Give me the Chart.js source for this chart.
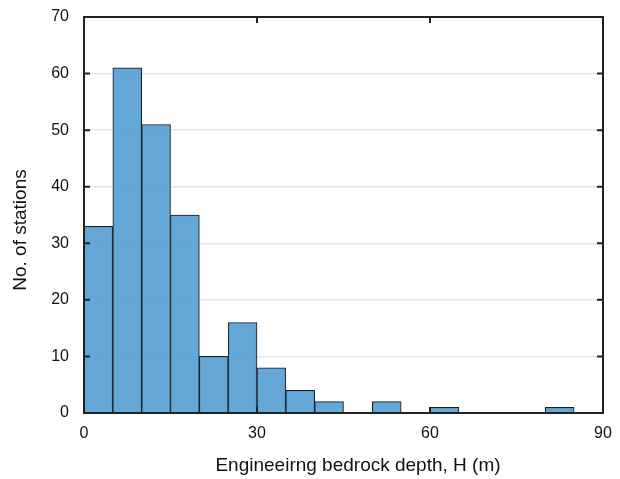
<!DOCTYPE html>
<html>
<head>
<meta charset="utf-8">
<script src="https://cdn.jsdelivr.net/npm/chart.js@4.4.1/dist/chart.umd.min.js"></script>
<style>
  html, body { margin: 0; padding: 0; background: #fff; }
  #wrap { width: 620px; height: 479px; }
</style>
</head>
<body>
<div id="wrap"><canvas id="histChart" width="620" height="479"></canvas></div>
<script>
// Bin centres (m) of 5 m wide bins, and station counts per bin
const binCenters = [2.5, 7.5, 12.5, 17.5, 22.5, 27.5, 32.5, 37.5, 42.5, 47.5, 52.5, 57.5, 62.5, 67.5, 72.5, 77.5, 82.5, 87.5];
const stationCounts = [33, 61, 51, 35, 10, 16, 8, 4, 2, 0, 2, 0, 1, 0, 0, 0, 1, 0];
const xTicks = [0, 30, 60, 90];
const yTicks = [0, 10, 20, 30, 40, 50, 60, 70];

const xTitle = 'Engineeirng bedrock depth, H (m)';
const yTitle = 'No. of stations';
const fontFamily = '"Liberation Sans", Arial, Helvetica, sans-serif';

// frame around the plot with inward tick marks, plus axis titles
const framePlugin = {
  id: 'frame',
  afterDatasetsDraw(chart) {
    const { ctx, chartArea: a, scales } = chart;
    const len = 6;
    ctx.save();
    ctx.strokeStyle = '#222';
    ctx.lineWidth = 2;
    ctx.beginPath();
    yTicks.forEach(v => {
      if (v === 0 || v === 70) return;
      const y = scales.y.getPixelForValue(v);
      ctx.moveTo(a.left, y); ctx.lineTo(a.left + len, y);
      ctx.moveTo(a.right, y); ctx.lineTo(a.right - len, y);
    });
    xTicks.forEach(v => {
      if (v === 0 || v === 90) return;
      const x = scales.x.getPixelForValue(v);
      ctx.moveTo(x, a.bottom); ctx.lineTo(x, a.bottom - len);
      ctx.moveTo(x, a.top); ctx.lineTo(x, a.top + len);
    });
    ctx.stroke();
    ctx.strokeRect(a.left, a.top, a.right - a.left, a.bottom - a.top);

    ctx.fillStyle = '#111';
    ctx.font = '19px ' + fontFamily;
    ctx.textAlign = 'center';
    ctx.textBaseline = 'middle';
    ctx.fillText(xTitle, 358, 466);
    ctx.translate(21, 230);
    ctx.rotate(-Math.PI / 2);
    ctx.fillText(yTitle, 0, 0);
    ctx.restore();
  }
};

new Chart(document.getElementById('histChart'), {
  type: 'bar',
  data: {
    datasets: [{
      data: binCenters.map((x, i) => ({ x, y: stationCounts[i] })),
      backgroundColor: 'rgba(88,160,212,0.92)',
      borderColor: '#1e1e1e',
      borderWidth: 1,
      barPercentage: 1,
      categoryPercentage: 1,
      borderSkipped: 'bottom'
    }]
  },
  options: {
    responsive: false,
    animation: false,
    layout: { padding: { top: 17, right: 17, left: 0, bottom: 0 } },
    plugins: { legend: { display: false }, tooltip: { enabled: false } },
    scales: {
      x: {
        type: 'linear',
        min: 0,
        max: 90,
        offset: false,
        afterBuildTicks: s => { s.ticks = xTicks.map(v => ({ value: v })); },
        afterFit: s => { s.height = 66; s.paddingRight = 0; s.paddingLeft = 0; },
        grid: { display: false, drawTicks: false, offset: false },
        border: { display: false },
        ticks: { color: '#111', padding: 11, maxRotation: 0, font: { size: 16, family: fontFamily } }
      },
      y: {
        min: 0,
        max: 70,
        afterBuildTicks: s => { s.ticks = yTicks.map(v => ({ value: v })); },
        afterFit: s => { s.width = 84; s.paddingTop = 0; s.paddingBottom = 0; },
        grid: {
          drawTicks: false,
          color: ctx => (ctx.tick.value === 0 || ctx.tick.value === 70) ? 'rgba(0,0,0,0)' : '#e6e6e6',
          lineWidth: 1.5
        },
        border: { display: false },
        ticks: { color: '#111', padding: 15, font: { size: 16, family: fontFamily } }
      }
    }
  },
  plugins: [framePlugin]
});
</script>
</body>
</html>
